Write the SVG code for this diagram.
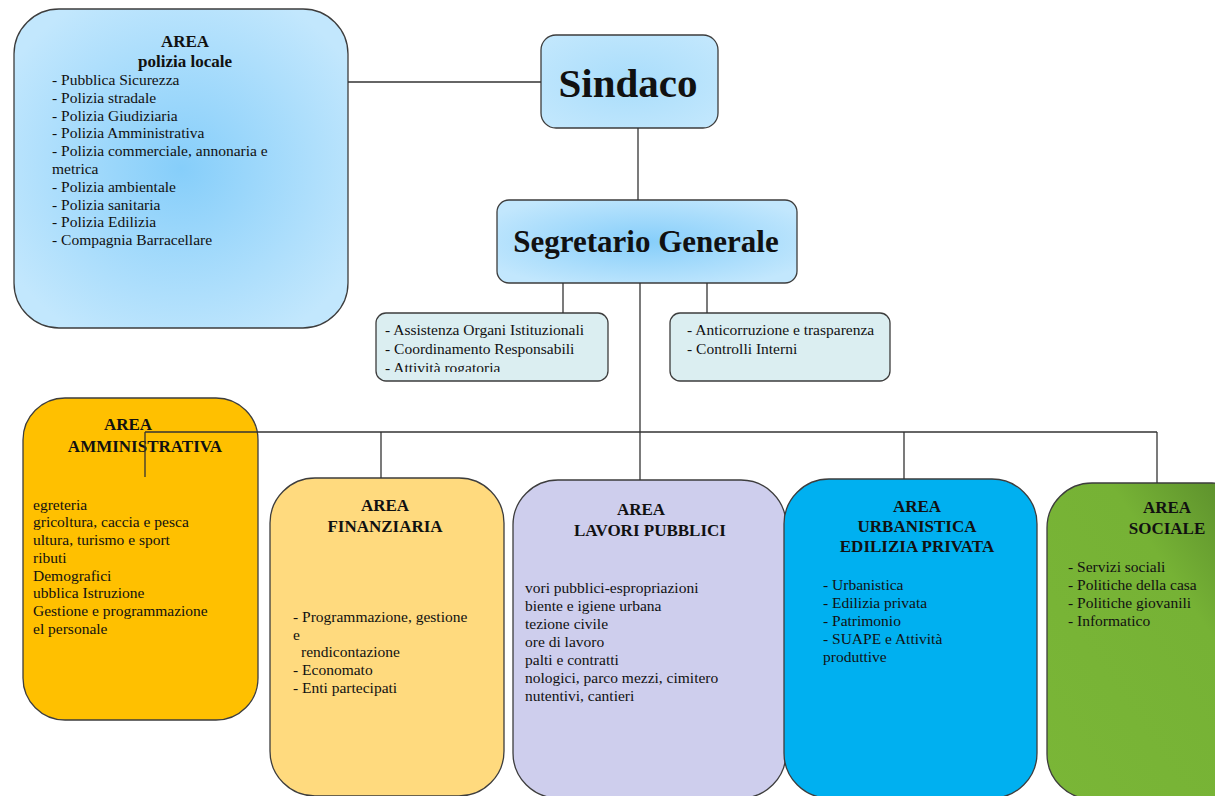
<svg xmlns="http://www.w3.org/2000/svg" width="1215" height="796" viewBox="0 0 1215 796">
<defs>
<radialGradient id="gBlue" cx="0.5" cy="0.5" r="0.6">
<stop offset="0" stop-color="#86CEFA"/>
<stop offset="1" stop-color="#C2E7FD"/>
</radialGradient>
<radialGradient id="gSind" cx="0.5" cy="0.5" r="0.7">
<stop offset="0" stop-color="#A9DDFB"/>
<stop offset="1" stop-color="#C4E8FD"/>
</radialGradient>
<linearGradient id="gGreen" x1="0" y1="1" x2="1" y2="0">
<stop offset="0" stop-color="#7AB637"/>
<stop offset="0.65" stop-color="#76B235"/>
<stop offset="1" stop-color="#55862A"/>
</linearGradient>
<clipPath id="clipSmall"><rect x="376" y="313" width="232" height="59"/></clipPath>
</defs>
<style>
.box{stroke:#3d3d3d;stroke-width:1.3}
.t{font-family:"Liberation Serif","Times New Roman",serif;fill:#111}
.it{font-size:15.5px}
.h{font-size:17px;font-weight:bold;text-anchor:middle}
.ln{stroke:#333;stroke-width:1.3;fill:none}
</style>

<g id="polizia">
<rect class="box" x="14" y="9" width="334" height="319" rx="45" fill="url(#gBlue)"/>
<text class="t h" x="185" y="47">AREA</text>
<text class="t h" x="185" y="67">polizia locale</text>
<g class="t it">
<text x="52" y="85">- Pubblica Sicurezza</text>
<text x="52" y="103">- Polizia stradale</text>
<text x="52" y="121">- Polizia Giudiziaria</text>
<text x="52" y="138">- Polizia Amministrativa</text>
<text x="52" y="156">- Polizia commerciale, annonaria e</text>
<text x="52" y="174">metrica</text>
<text x="52" y="192">- Polizia ambientale</text>
<text x="52" y="210">- Polizia sanitaria</text>
<text x="52" y="227">- Polizia Edilizia</text>
<text x="52" y="245">- Compagnia Barracellare</text>
</g>
</g>

<g id="sindaco">
<rect class="box" x="541" y="35" width="177" height="93" rx="15" fill="url(#gSind)"/>
<text class="t" x="628" y="97" font-size="41" font-weight="bold" text-anchor="middle">Sindaco</text>
</g>

<g id="segretario">
<rect class="box" x="497" y="200" width="300" height="83" rx="12" fill="url(#gBlue)"/>
<text class="t" x="646" y="252" font-size="31" font-weight="bold" text-anchor="middle">Segretario Generale</text>
</g>

<g id="assistenza">
<rect class="box" x="376" y="313" width="232" height="68" rx="10" fill="#DBEEF1"/>
<g class="t it" clip-path="url(#clipSmall)">
<text x="385" y="335">- Assistenza Organi Istituzionali</text>
<text x="385" y="354">- Coordinamento Responsabili</text>
<text x="385" y="373">- Attività rogatoria</text>
</g>
</g>

<g id="anticorruzione">
<rect class="box" x="670" y="313" width="220" height="68" rx="10" fill="#DBEEF1"/>
<g class="t it">
<text x="687" y="335">- Anticorruzione e trasparenza</text>
<text x="687" y="354">- Controlli Interni</text>
</g>
</g>

<g id="amministrativa">
<rect class="box" x="23" y="398" width="235" height="322" rx="42" fill="#FFC000"/>
<text class="t h" x="128" y="430">AREA</text>
<text class="t h" x="145" y="452">AMMINISTRATIVA</text>
<g class="t it">
<text x="33" y="510">egreteria</text>
<text x="33" y="527">gricoltura, caccia e pesca</text>
<text x="33" y="545">ultura, turismo e sport</text>
<text x="33" y="563">ributi</text>
<text x="33" y="581">Demografici</text>
<text x="33" y="598">ubblica Istruzione</text>
<text x="33" y="616">Gestione e programmazione</text>
<text x="33" y="634">el personale</text>
</g>
</g>

<g id="finanziaria">
<rect class="box" x="270" y="478" width="234" height="318" rx="45" fill="#FFDA7E"/>
<text class="t h" x="385" y="511">AREA</text>
<text class="t h" x="385" y="532">FINANZIARIA</text>
<g class="t it">
<text x="293" y="622">- Programmazione, gestione</text>
<text x="293" y="640">e</text>
<text x="301" y="657">rendicontazione</text>
<text x="293" y="675">- Economato</text>
<text x="293" y="693">- Enti partecipati</text>
</g>
</g>

<g id="lavori">
<rect class="box" x="513" y="480" width="273" height="318" rx="45" fill="#CECEED"/>
<text class="t h" x="641" y="515">AREA</text>
<text class="t h" x="650" y="536">LAVORI PUBBLICI</text>
<g class="t it">
<text x="525" y="593">vori pubblici-espropriazioni</text>
<text x="525" y="611">biente e igiene urbana</text>
<text x="525" y="629">tezione civile</text>
<text x="525" y="647">ore di lavoro</text>
<text x="525" y="665">palti e contratti</text>
<text x="525" y="683">nologici, parco mezzi, cimitero</text>
<text x="525" y="701">nutentivi, cantieri</text>
</g>
</g>

<g id="urbanistica">
<rect class="box" x="784" y="479" width="253" height="319" rx="45" fill="#00B0F0"/>
<text class="t h" x="917" y="512">AREA</text>
<text class="t h" x="917" y="532">URBANISTICA</text>
<text class="t h" x="917" y="552">EDILIZIA PRIVATA</text>
<g class="t it">
<text x="823" y="590">- Urbanistica</text>
<text x="823" y="608">- Edilizia privata</text>
<text x="823" y="626">- Patrimonio</text>
<text x="823" y="644">- SUAPE e Attività</text>
<text x="823" y="662">produttive</text>
</g>
</g>

<g id="sociale">
<rect class="box" x="1047" y="483" width="210" height="316" rx="45" fill="url(#gGreen)"/>
<text class="t h" x="1167" y="513">AREA</text>
<text class="t h" x="1167" y="534">SOCIALE</text>
<g class="t it">
<text x="1068" y="572">- Servizi sociali</text>
<text x="1068" y="590">- Politiche della casa</text>
<text x="1068" y="608">- Politiche giovanili</text>
<text x="1068" y="626">- Informatico</text>
</g>
</g>

<g id="connectors">
<path class="ln" d="M348 82 H541"/>
<path class="ln" d="M638 128 V200"/>
<path class="ln" d="M563 283 V313"/>
<path class="ln" d="M707 283 V313"/>
<path class="ln" d="M640 283 V480"/>
<path class="ln" d="M145 432 H1157"/>
<path class="ln" d="M145 432 V477"/>
<path class="ln" d="M381 432 V478"/>
<path class="ln" d="M904 432 V479"/>
<path class="ln" d="M1157 432 V483"/>
</g>
</svg>
